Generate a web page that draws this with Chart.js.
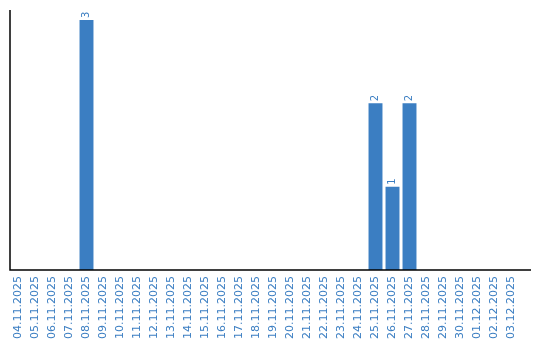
<!DOCTYPE html>
<html>
<head>
<meta charset="utf-8">
<script src="https://cdn.jsdelivr.net/npm/chart.js@4"></script>
<style>
  html, body { margin: 0; padding: 0; background: #fff; }
  #wrap { width: 540px; height: 340px; }
</style>
</head>
<body>
<div id="wrap"><canvas id="c" width="540" height="340"></canvas></div>
<script>
const dates = [
  "04.11.2025", "05.11.2025", "06.11.2025", "07.11.2025", "08.11.2025",
  "09.11.2025", "10.11.2025", "11.11.2025", "12.11.2025", "13.11.2025",
  "14.11.2025", "15.11.2025", "16.11.2025", "17.11.2025", "18.11.2025",
  "19.11.2025", "20.11.2025", "21.11.2025", "22.11.2025", "23.11.2025",
  "24.11.2025", "25.11.2025", "26.11.2025", "27.11.2025", "28.11.2025",
  "29.11.2025", "30.11.2025", "01.12.2025", "02.12.2025", "03.12.2025"
];
const counts = [
  0, 0, 0, 0, 3,
  0, 0, 0, 0, 0,
  0, 0, 0, 0, 0,
  0, 0, 0, 0, 0,
  0, 2, 1, 2, 0,
  0, 0, 0, 0, 0
];

const BLUE = "#3b7ec2";
const FONT = "'DejaVu Sans', sans-serif";

// value labels above the bars, rotated like the axis labels
const valueLabels = {
  id: "valueLabels",
  afterDatasetsDraw(chart) {
    const ctx = chart.ctx;
    const meta = chart.getDatasetMeta(0);
    ctx.save();
    ctx.fillStyle = BLUE;
    ctx.font = "10px " + FONT;
    ctx.textAlign = "left";
    ctx.textBaseline = "middle";
    meta.data.forEach((bar, i) => {
      const v = counts[i];
      if (!v) return;
      ctx.save();
      ctx.translate(bar.x, bar.y - 2);
      ctx.rotate(-Math.PI / 2);
      ctx.fillText(String(v), 0, 0);
      ctx.restore();
    });
    ctx.restore();
  },
};

// plain black axis lines, bottom one runs a bit past the last category
const axisLines = {
  id: "axisLines",
  afterDraw(chart) {
    const { ctx, chartArea } = chart;
    ctx.save();
    ctx.strokeStyle = "#000";
    ctx.lineWidth = 1.5;
    ctx.beginPath();
    ctx.moveTo(chartArea.left, chartArea.top);
    ctx.lineTo(chartArea.left, chartArea.bottom);
    ctx.lineTo(chartArea.right + 11, chartArea.bottom);
    ctx.stroke();
    ctx.restore();
  },
};

new Chart(document.getElementById("c"), {
  type: "bar",
  data: {
    labels: dates,
    datasets: [{
      data: counts,
      backgroundColor: BLUE,
      borderWidth: 0,
      barPercentage: 0.82,
      categoryPercentage: 1,
    }],
  },
  options: {
    responsive: false,
    animation: false,
    layout: { padding: { left: 10, right: 20, top: 10, bottom: -5 } },
    plugins: {
      legend: { display: false },
      tooltip: { enabled: false },
    },
    scales: {
      x: {
        grid: { display: false, drawTicks: false },
        border: { display: false },
        ticks: {
          color: BLUE,
          font: { family: FONT, size: 11 },
          minRotation: 90,
          maxRotation: 90,
          autoSkip: false,
          padding: 6,
        },
      },
      y: {
        min: 0,
        max: 3.12,
        grid: { display: false, drawTicks: false },
        border: { display: false },
        ticks: { display: false },
      },
    },
  },
  plugins: [valueLabels, axisLines],
});
</script>
</body>
</html>
